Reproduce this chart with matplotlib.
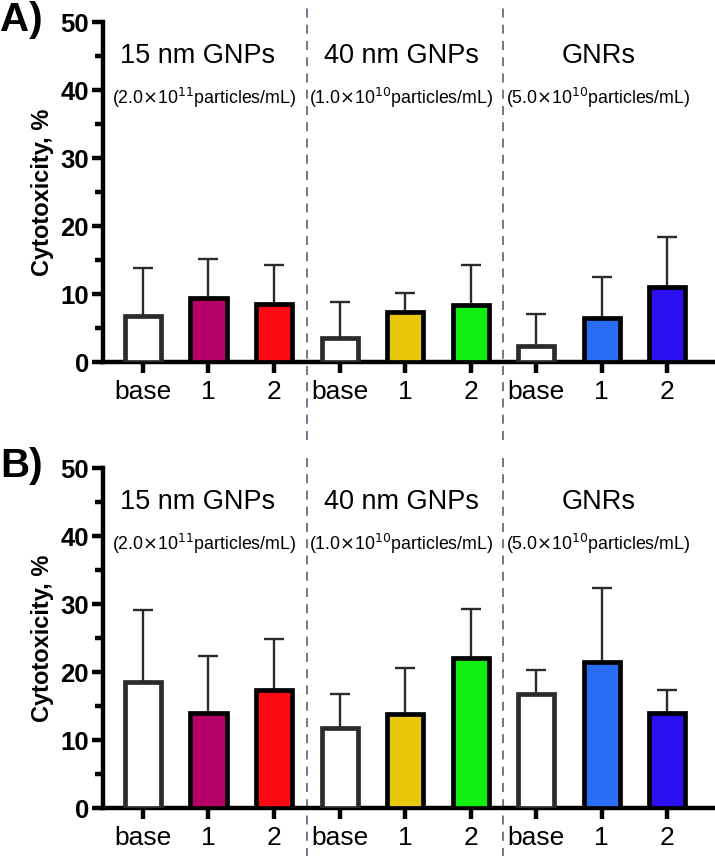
import numpy as np
import matplotlib.pyplot as plt

plt.rcParams['font.family'] = ['Liberation Sans', 'DejaVu Sans']

labels = ['base', '1', '2', 'base', '1', '2', 'base', '1', '2']
groups = ['15 nm GNPs', '40 nm GNPs', 'GNRs']
conc = [r'(2.0$\times$10$^{11}$particles/mL)', r'(1.0$\times$10$^{10}$particles/mL)',
        r'(5.0$\times$10$^{10}$particles/mL)']
colors = ['white', '#B5006A', '#FF0A14', 'white', '#E8C80A', '#10F010',
          'white', '#2A6EF5', '#2A10F0']

# panel A
mean_a = [6.8, 9.4, 8.5, 3.5, 7.4, 8.4, 2.4, 6.5, 11.1]
err_a = [7.0, 5.8, 5.8, 5.3, 2.8, 5.9, 4.6, 6.0, 7.3]
# panel B
mean_b = [18.6, 14.0, 17.4, 11.8, 13.8, 22.0, 16.7, 21.5, 14.0]
err_b = [10.5, 8.4, 7.4, 4.9, 6.8, 7.3, 3.6, 10.9, 3.3]

fig = plt.figure(figsize=(7.15, 8.56), dpi=100)
W, H = 715, 856


def panel(top, bottom, means, errs, tag):
    ax = fig.add_axes([103 / W, 1 - bottom / H, (715 - 103) / W, (bottom - top) / H])
    x = np.arange(len(means))
    for i in range(len(means)):
        ec = '#2b2b2b' if colors[i] == 'white' else 'black'
        ax.bar(x[i], means[i], width=0.55, color=colors[i], edgecolor=ec, linewidth=3.4, zorder=3)
        ax.errorbar(x[i], means[i], yerr=[[0], [errs[i]]], fmt='none', ecolor='#2b2b2b',
                    elinewidth=1.7, capsize=7, capthick=1.7, zorder=2)
    ax.set_xlim(-0.61, 8.73)
    ax.set_ylim(0, 50)
    ax.set_yticks([0, 10, 20, 30, 40, 50])
    ax.set_yticks([5, 15, 25, 35, 45], minor=True)
    ax.set_xticks(x)
    ax.set_xticklabels(labels, fontsize=19)
    for t in ax.get_yticklabels():
        t.set_fontweight('bold')
        t.set_fontsize(18.5)
    ax.tick_params(axis='y', which='major', width=3.2, length=8, pad=2)
    ax.tick_params(axis='y', which='minor', width=3.2, length=6)
    ax.tick_params(axis='x', width=3.2, length=8, pad=5)
    for s in ['top', 'right']:
        ax.spines[s].set_visible(False)
    for s in ['left', 'bottom']:
        ax.spines[s].set_linewidth(3.2)
    ax.set_ylabel('Cytotoxicity, %', fontsize=17, fontweight='bold', labelpad=5)
    for xd in [2.5, 5.5]:
        ax.plot([xd, xd], [-11.5, 52.5], color='#607080', lw=1.3, ls=(0, (5, 4)),
                clip_on=False, zorder=1)
    for xg, xc, g, c in zip([0.84, 3.94, 6.96], [0.93, 3.94, 6.95], groups, conc):
        ax.text(xg, 45, g, ha='center', va='center', fontsize=19.5)
        ax.text(xc, 38.9, c, ha='center', va='center', fontsize=12.8)
    fig.text(0, 1 - (top - 2) / H, tag, fontsize=29, fontweight='bold', va='center')


panel(22, 362, mean_a, err_a, 'A)')
panel(468, 808, mean_b, err_b, 'B)')

fig.savefig('out.png', dpi=100)
